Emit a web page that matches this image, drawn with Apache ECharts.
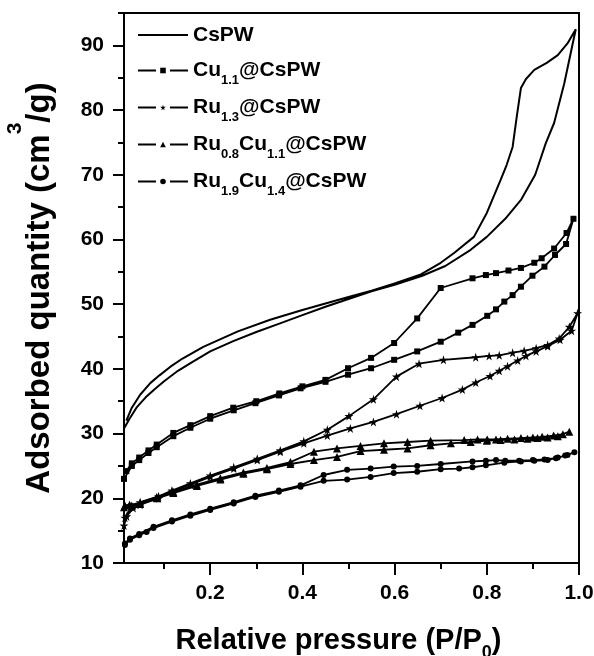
<!DOCTYPE html>
<html><head><meta charset="utf-8">
<script src="https://cdn.jsdelivr.net/npm/echarts@6/dist/echarts.min.js"></script>
<style>html,body{margin:0;padding:0;background:#fff}#c{width:594px;height:656px}</style>
</head><body><div id="c"></div>
<script>
// ---- data ----
var xMajor = [0.2, 0.4, 0.6, 0.8, 1.0];
var xMinor = [0.1, 0.3, 0.5, 0.7, 0.9];
var yMajor = [10, 20, 30, 40, 50, 60, 70, 80, 90];
var yMinor = [15, 25, 35, 45, 55, 65, 75, 85, 95];
var seriesNames = ['CsPW', 'Cu1.1@CsPW', 'Ru1.3@CsPW', 'Ru0.8Cu1.1@CsPW', 'Ru1.9Cu1.4@CsPW'];

var cspwAds = [[0.013,30.8],[0.025,32.3],[0.04,34.0],[0.06,35.6],[0.08,36.9],[0.1,38.1],[0.13,39.7],[0.16,41.0],[0.2,42.7],[0.25,44.3],[0.3,45.7],[0.35,47.0],[0.4,48.3],[0.45,49.6],[0.5,50.8],[0.55,52.0],[0.6,53.0],[0.66,54.4],[0.71,55.9],[0.765,58.4],[0.8,60.4],[0.84,63.2],[0.875,66.2],[0.905,70.0],[0.928,74.9],[0.946,78.0],[0.968,84.1],[0.993,92.5]];
var cspwDes = [[0.975,90.3],[0.954,88.5],[0.93,87.3],[0.903,86.2],[0.885,84.8],[0.874,83.4],[0.865,79.0],[0.856,74.3],[0.843,71.5],[0.83,69.2],[0.8,64.1],[0.772,60.4],[0.729,57.9],[0.7,56.4],[0.657,54.6],[0.6,53.2],[0.55,52.1],[0.5,51.1],[0.45,50.1],[0.4,49.1],[0.33,47.6],[0.26,45.8],[0.185,43.4],[0.14,41.6],[0.113,40.3],[0.09,39.0],[0.07,37.8],[0.048,36.0],[0.03,34.0],[0.018,32.0]];

var cuAds = [[0.013,23.0],[0.03,25.0],[0.046,25.9],[0.066,27.0],[0.084,27.9],[0.12,29.6],[0.157,30.9],[0.2,32.3],[0.251,33.6],[0.298,34.7],[0.349,35.9],[0.396,37.0],[0.45,38.0],[0.499,39.1],[0.549,40.1],[0.599,41.4],[0.649,42.7],[0.7,44.2],[0.738,45.6],[0.769,46.8],[0.801,48.2],[0.82,49.2],[0.838,50.4],[0.856,51.4],[0.874,52.7],[0.899,54.4],[0.925,55.8],[0.948,57.6],[0.972,59.3],[0.988,63.2]];
var cuDes = [[0.973,61.0],[0.946,58.6],[0.919,57.1],[0.903,56.4],[0.874,55.6],[0.847,55.2],[0.82,54.8],[0.798,54.5],[0.769,54.0],[0.7,52.5],[0.649,47.8],[0.599,44.0],[0.549,41.7],[0.499,40.1],[0.45,38.3],[0.4,37.3],[0.35,36.2],[0.3,35.0],[0.25,34.0],[0.2,32.7],[0.157,31.3],[0.12,30.1],[0.084,28.3],[0.066,27.4],[0.046,26.3],[0.03,25.4],[0.018,24.2]];

var ru13Ads = [[0.013,15.8],[0.019,17.2],[0.033,18.5],[0.048,19.0],[0.088,20.0],[0.117,21.0],[0.157,22.1],[0.2,23.3],[0.251,24.6],[0.302,25.9],[0.352,27.2],[0.403,28.5],[0.454,29.7],[0.504,30.8],[0.554,31.8],[0.604,33.0],[0.655,34.3],[0.703,35.5],[0.747,36.8],[0.776,37.9],[0.807,38.9],[0.827,39.7],[0.845,40.4],[0.867,41.3],[0.885,42.0],[0.907,42.7],[0.932,43.5],[0.959,44.5],[0.984,45.9],[0.997,48.6]];
var ru13Des = [[0.979,46.5],[0.957,44.7],[0.932,43.7],[0.907,43.2],[0.881,42.8],[0.856,42.5],[0.827,42.1],[0.805,42.0],[0.776,41.8],[0.706,41.4],[0.653,40.8],[0.604,38.8],[0.554,35.3],[0.501,32.7],[0.454,30.6],[0.403,28.8],[0.352,27.4],[0.302,26.1],[0.251,24.8],[0.2,23.5],[0.157,22.3],[0.117,21.2],[0.088,20.3],[0.048,19.4],[0.03,18.8],[0.015,17.0]];

var ru08Ads = [[0.013,18.6],[0.03,18.8],[0.048,19.1],[0.084,20.0],[0.12,20.8],[0.171,21.9],[0.222,22.9],[0.272,23.8],[0.323,24.5],[0.374,25.3],[0.425,25.9],[0.475,26.4],[0.526,27.3],[0.577,27.5],[0.628,27.7],[0.678,28.2],[0.722,28.5],[0.765,28.7],[0.8,28.9],[0.83,29.0],[0.86,29.1],[0.888,29.2],[0.91,29.3],[0.932,29.4],[0.954,29.6],[0.979,30.3]];
var ru08Des = [[0.965,29.9],[0.945,29.7],[0.92,29.5],[0.9,29.4],[0.874,29.3],[0.845,29.2],[0.82,29.1],[0.801,29.1],[0.78,29.1],[0.751,29.0],[0.678,28.9],[0.628,28.7],[0.577,28.5],[0.526,28.1],[0.475,27.7],[0.425,27.2],[0.374,25.6],[0.323,24.7],[0.272,24.0],[0.222,23.1],[0.171,22.1],[0.12,21.0],[0.084,20.2],[0.048,19.3],[0.025,19.0],[0.015,18.9]];

var ru19Ads = [[0.015,12.8],[0.026,13.6],[0.046,14.3],[0.062,14.8],[0.077,15.4],[0.117,16.4],[0.157,17.3],[0.2,18.2],[0.251,19.2],[0.298,20.2],[0.349,21.0],[0.396,21.8],[0.446,22.7],[0.497,22.9],[0.548,23.3],[0.598,23.9],[0.649,24.1],[0.7,24.5],[0.74,24.6],[0.769,24.8],[0.798,25.1],[0.838,25.5],[0.874,25.7],[0.903,25.8],[0.932,25.9],[0.954,26.3],[0.975,26.7],[0.99,27.1]];
var ru19Des = [[0.97,26.6],[0.95,26.2],[0.925,26.0],[0.9,25.9],[0.87,25.8],[0.84,25.8],[0.82,25.9],[0.798,25.8],[0.769,25.7],[0.7,25.3],[0.649,25.0],[0.598,24.9],[0.548,24.6],[0.497,24.4],[0.446,23.6],[0.396,22.0],[0.349,21.2],[0.298,20.4],[0.251,19.4],[0.2,18.4],[0.157,17.5],[0.117,16.6],[0.077,15.6],[0.046,14.5],[0.026,13.8],[0.015,13.0]];

// ---- chart ----
var FF = '"Liberation Sans", Arial, sans-serif';
var STAR = 'path://M50,0 L61,35 L98,35 L68,57 L79,91 L50,70 L21,91 L32,57 L2,35 L39,35 Z';
var XMIN = 0.013, XMAX = 1.0, YMIN = 10, YMAX = 95;
var axisLineStyle = {color: '#000', width: 2};

function baseX(extra) {
  return Object.assign({type: 'value', min: XMIN, max: XMAX, splitLine: {show: false}}, extra);
}
function baseY(extra) {
  return Object.assign({type: 'value', min: YMIN, max: YMAX, splitLine: {show: false}}, extra);
}

var symbols = ['none', 'rect', STAR, 'triangle', 'circle'];
var sizes = [0, 6, 9, 8, 6];
var dataSets = [
  cspwAds.concat(cspwDes), cuAds.concat(cuDes), ru13Ads.concat(ru13Des),
  ru08Ads.concat(ru08Des), ru19Ads.concat(ru19Des)
];

var series = seriesNames.map(function (n, i) {
  return {
    name: n, type: 'line', xAxisIndex: 0, yAxisIndex: 0,
    data: dataSets[i],
    symbol: symbols[i], symbolSize: sizes[i], showSymbol: i > 0,
    lineStyle: {color: '#000', width: i === 0 ? 2 : 1.8},
    itemStyle: {color: '#000'},
    animation: false
  };
});

function legendLabel(name) {
  var map = {
    'CsPW': '{m|CsPW}',
    'Cu1.1@CsPW': '{m|Cu}{s|1.1}{m|@CsPW}',
    'Ru1.3@CsPW': '{m|Ru}{s|1.3}{m|@CsPW}',
    'Ru0.8Cu1.1@CsPW': '{m|Ru}{s|0.8}{m|Cu}{s|1.1}{m|@CsPW}',
    'Ru1.9Cu1.4@CsPW': '{m|Ru}{s|1.9}{m|Cu}{s|1.4}{m|@CsPW}'
  };
  return map[name];
}

var chart = echarts.init(document.getElementById('c'), null, {renderer: 'canvas'});
chart.setOption({
  backgroundColor: '#fff',
  animation: false,
  grid: {left: 124, right: 15, top: 13, bottom: 93, containLabel: false, outerBoundsMode: 'none'},
  legend: {
    orient: 'vertical', left: 132, top: 15,
    itemWidth: 50, itemHeight: 7, itemGap: 4,
    selectedMode: false,
    formatter: legendLabel,
    textStyle: {
      color: '#000', fontFamily: FF, fontWeight: 'bold', fontSize: 21, lineHeight: 30,
      rich: {
        m: {fontSize: 21, fontWeight: 'bold', fontFamily: FF, color: '#000', lineHeight: 30},
        s: {fontSize: 13, fontWeight: 'bold', fontFamily: FF, color: '#000', lineHeight: 13, padding: [20, 0, 0, 0]}
      }
    },
    data: seriesNames.map(function (n, i) {
      return i === 0
        ? {name: n, itemStyle: {opacity: 0, color: 'rgba(0,0,0,0)'}, lineStyle: {type: 'solid', width: 2, color: '#000'}}
        : {name: n, lineStyle: {type: [18, 14], width: 2, color: '#000'}};
    })
  },
  xAxis: [
    baseX({
      position: 'bottom',
      axisLine: {show: true, onZero: false, lineStyle: axisLineStyle},
      axisTick: {show: true, customValues: xMajor, length: 12, lineStyle: axisLineStyle},
      axisLabel: {customValues: xMajor, formatter: function (v) { return v.toFixed(1); },
        color: '#000', fontFamily: FF, fontWeight: 'bold', fontSize: 21, margin: 20},
      name: '{a|Relative pressure (P/P}{s|0}{a|)}',
      nameLocation: 'middle', nameGap: 57,
      nameTextStyle: {
        padding: [0, 26, 0, 0],
        rich: {
          a: {fontSize: 29, fontWeight: 'bold', fontFamily: FF, color: '#000'},
          s: {fontSize: 18, fontWeight: 'bold', fontFamily: FF, color: '#000', padding: [24, 0, 0, 0]}
        }
      }
    }),
    baseX({
      position: 'bottom',
      axisLine: {show: false, onZero: false},
      axisTick: {show: true, customValues: xMinor, length: 6, lineStyle: axisLineStyle},
      axisLabel: {show: false}
    }),
    baseX({
      position: 'top',
      axisLine: {show: true, onZero: false, lineStyle: axisLineStyle},
      axisTick: {show: false}, axisLabel: {show: false}
    })
  ],
  yAxis: [
    baseY({
      position: 'left',
      axisLine: {show: true, onZero: false, lineStyle: axisLineStyle},
      axisTick: {show: true, customValues: yMajor, length: 11, lineStyle: axisLineStyle},
      axisLabel: {customValues: yMajor, color: '#000', fontFamily: FF, fontWeight: 'bold', fontSize: 21, margin: 20},
      name: '{a|Adsorbed quantity (cm}{p|3}{a|/g)}',
      nameLocation: 'middle', nameGap: 50, nameRotate: 90,
      nameTextStyle: {
        rich: {
          a: {fontSize: 33, fontWeight: 'bold', fontFamily: FF, color: '#000'},
          p: {fontSize: 21, fontWeight: 'bold', fontFamily: FF, color: '#000', padding: [0, 0, 48, 0]}
        }
      }
    }),
    baseY({
      position: 'left',
      axisLine: {show: false, onZero: false},
      axisTick: {show: true, customValues: yMinor, length: 6, lineStyle: axisLineStyle},
      axisLabel: {show: false}
    }),
    baseY({
      position: 'right',
      axisLine: {show: true, onZero: false, lineStyle: axisLineStyle},
      axisTick: {show: false}, axisLabel: {show: false}
    })
  ],
  series: series
});
</script></body></html>
